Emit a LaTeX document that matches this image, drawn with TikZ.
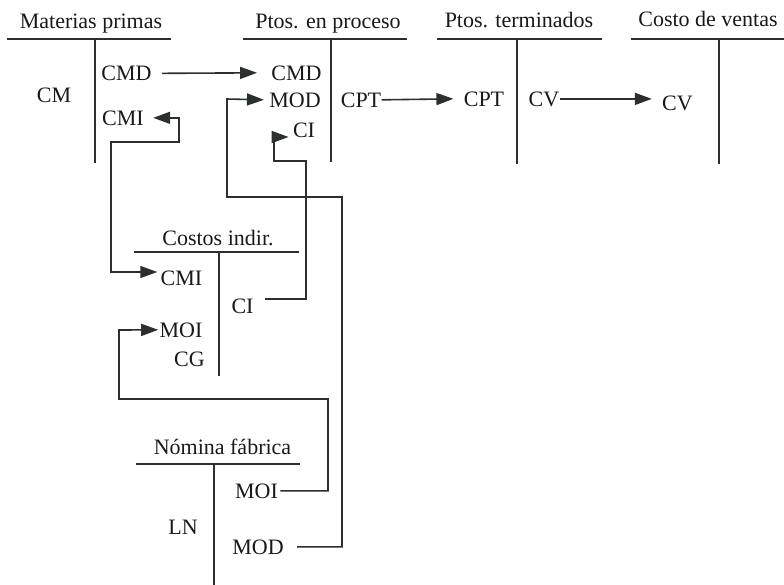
\documentclass[tikz,border=0pt]{standalone}
\usepackage{fontspec}
\setmainfont{Liberation Serif}
\usetikzlibrary{arrows.meta}
\definecolor{ink}{HTML}{2B302F}

\begin{document}
\begin{tikzpicture}[
		x=0.5pt, y=-0.5pt,
		>={Triangle[length=8.5pt, width=6pt]},
		lbl/.style={anchor=base, inner sep=0pt, font=\fontsize{11}{13}\selectfont, text=black!90},
		tline/.style={draw=ink, line width=0.9pt},
		flow/.style={draw=ink, line width=0.8pt, ->},
		both/.style={draw=ink, line width=0.8pt, <->}
	]
	\useasboundingbox (0,0) rectangle (784,585);
	
	% cuentas T
	\draw[tline] (7, 39) -- (171, 39) (95, 39) -- (95, 163);
	\draw[tline] (243, 39) -- (407, 39) (331, 39) -- (331, 162);
	\draw[tline] (437, 39) -- (602, 39) (517, 39) -- (517, 164);
	\draw[tline] (631, 39) -- (784, 39) (719, 39) -- (719, 164);
	\draw[tline] (134, 252) -- (299, 252) (219, 252) -- (219, 376);
	\draw[tline] (136, 464) -- (300, 464) (214, 464) -- (214, 585);
	
	% titulos
	\node[lbl] (mpT) at (91, 28) {Materias primas};
	\node[lbl] (ppT) at (328, 28) {Ptos. en proceso};
	\node[lbl] (ptT) at (519, 27) {Ptos. terminados};
	\node[lbl] (cvT) at (708, 26) {Costo de ventas};
	\node[lbl] (ciT) at (218, 245) {Costos indir.};
	\node[lbl] (nfT) at (222.5, 454) {Nómina fábrica};
	
	% Materias primas
	\node[lbl] (mpCM) at (54, 102) {CM};
	\node[lbl] (mpCMD) at (126.5, 80.5) {CMD};
	\node[lbl] (mpCMI) at (123, 125) {CMI};
	
	% Ptos. en proceso
	\node[lbl] (ppCMD) at (296.5, 80) {CMD};
	\node[lbl] (ppMOD) at (295, 107) {MOD};
	\node[lbl] (ppCI) at (304, 137) {CI};
	\node[lbl] (ppCPT) at (361, 107) {CPT};
	
	% Ptos. terminados
	\node[lbl] (ptCPT) at (484, 106) {CPT};
	\node[lbl] (ptCV) at (544, 106) {CV};
	
	% Costo de ventas
	\node[lbl] (cvCV) at (677.5, 110) {CV};
	
	% Costos indir.
	\node[lbl] (ciCMI) at (181.5, 285) {CMI};
	\node[lbl] (ciCI) at (242.5, 313) {CI};
	\node[lbl] (ciMOI) at (181, 337) {MOI};
	\node[lbl] (ciCG) at (189.5, 366) {CG};
	
	% Nomina fabrica
	\node[lbl] (nfMOI) at (256.5, 498) {MOI};
	\node[lbl] (nfLN) at (183, 534) {LN};
	\node[lbl] (nfMOD) at (258, 554) {MOD};
	
	% esquinas
	\coordinate (cmiA) at (179, 142);
	\coordinate (cmiB) at (111, 272);
	\coordinate (ciA) at (306, 161);
	\coordinate (ciB) at (274, 137);
	\coordinate (moiA) at (328, 399);
	\coordinate (moiB) at (119, 330);
	\coordinate (modA) at (342, 197);
	\coordinate (modB) at (227, 99);
	
	\draw[flow] ([xshift=5pt]mpCMD.east) -- ([xshift=-7pt]ppCMD.west);
	\draw[flow] (ppCPT.east) -- ([xshift=-5pt]ptCPT.west);
	\draw[flow] (ptCV.east) -- ([xshift=-5pt]cvCV.west |- ptCV.east);
	
	\draw[both] ([xshift=4.5pt]mpCMI.east) -| (cmiA) -| (cmiB) -- ([xshift=-1.5pt]ciCMI.west |- cmiB);
	\draw[flow] ([xshift=5.5pt, yshift=3.5pt]ciCI.east) -| (ciA) -| (ciB) -- ([xshift=-2pt]ppCI.west |- ciB);
	\draw[flow] ([xshift=1pt]nfMOI.east) -| (moiA) -| (moiB) -- ([xshift=-0.5pt]ciMOI.west);
	\draw[flow] ([xshift=6.5pt]nfMOD.east) -| (modA) -| (modB) -- ([xshift=-2.5pt]ppMOD.west);
\end{tikzpicture}
\end{document}
